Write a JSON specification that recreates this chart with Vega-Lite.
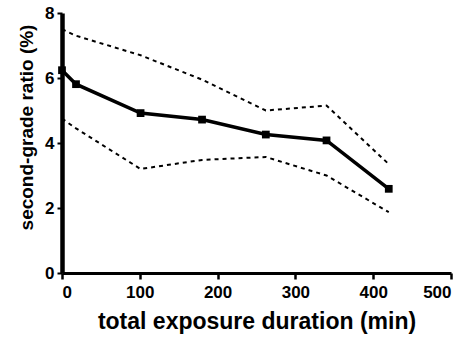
{
  "$schema": "https://vega.github.io/schema/vega-lite/v6.json",
  "width": 389,
  "height": 260,
  "autosize": "none",
  "padding": {"left": 62, "top": 13, "right": 18, "bottom": 70},
  "background": "white",
  "config": {
    "view": {"stroke": null},
    "font": "Liberation Sans",
    "axis": {
      "grid": false,
      "domainColor": "black",
      "tickColor": "black",
      "labelColor": "black",
      "titleColor": "black",
      "labelFont": "Liberation Sans",
      "titleFont": "Liberation Sans",
      "labelFontWeight": "bold",
      "titleFontWeight": "bold"
    }
  },
  "datasets": {
    "mean": [
      {"t": 0, "r": 6.24},
      {"t": 18, "r": 5.81},
      {"t": 101, "r": 4.92},
      {"t": 180, "r": 4.72},
      {"t": 262, "r": 4.26},
      {"t": 340, "r": 4.08},
      {"t": 420, "r": 2.59}
    ],
    "ci": [
      {"t": 0, "r": 7.5, "band": "upper"},
      {"t": 18, "r": 7.3, "band": "upper"},
      {"t": 101, "r": 6.7, "band": "upper"},
      {"t": 180, "r": 5.95, "band": "upper"},
      {"t": 262, "r": 5.0, "band": "upper"},
      {"t": 340, "r": 5.15, "band": "upper"},
      {"t": 420, "r": 3.35, "band": "upper"},
      {"t": 0, "r": 4.75, "band": "lower"},
      {"t": 18, "r": 4.45, "band": "lower"},
      {"t": 101, "r": 3.2, "band": "lower"},
      {"t": 180, "r": 3.48, "band": "lower"},
      {"t": 262, "r": 3.57, "band": "lower"},
      {"t": 340, "r": 3.0, "band": "lower"},
      {"t": 420, "r": 1.87, "band": "lower"}
    ]
  },
  "layer": [
    {
      "data": {"name": "ci"},
      "mark": {"type": "line", "color": "black", "strokeWidth": 2, "strokeDash": [4, 4]},
      "encoding": {
        "x": {
          "field": "t", "type": "quantitative",
          "scale": {"domain": [0, 500], "nice": false},
          "axis": {
            "values": [0, 100, 200, 300, 400, 500],
            "title": "total exposure duration (min)",
            "titleFontSize": 23,
            "titlePadding": 10,
            "labelFontSize": 17,
            "tickSize": 6,
            "tickWidth": 2.5,
            "domainWidth": 3,
            "labelPadding": 5
          }
        },
        "y": {
          "field": "r", "type": "quantitative",
          "scale": {"domain": [0, 8], "nice": false},
          "axis": {
            "values": [0, 2, 4, 6, 8],
            "title": "second-grade ratio (%)",
            "titleFontSize": 19,
            "titlePadding": 8,
            "titleY": 114,
            "labelFontSize": 17,
            "tickSize": 5,
            "tickWidth": 2,
            "domainWidth": 4.5,
            "labelPadding": 3
          }
        },
        "detail": {"field": "band"}
      }
    },
    {
      "data": {"name": "mean"},
      "mark": {"type": "line", "color": "black", "strokeWidth": 3.5, "point": {"shape": "square", "size": 60, "filled": true, "color": "black"}},
      "encoding": {
        "x": {"field": "t", "type": "quantitative"},
        "y": {"field": "r", "type": "quantitative"}
      }
    }
  ]
}
